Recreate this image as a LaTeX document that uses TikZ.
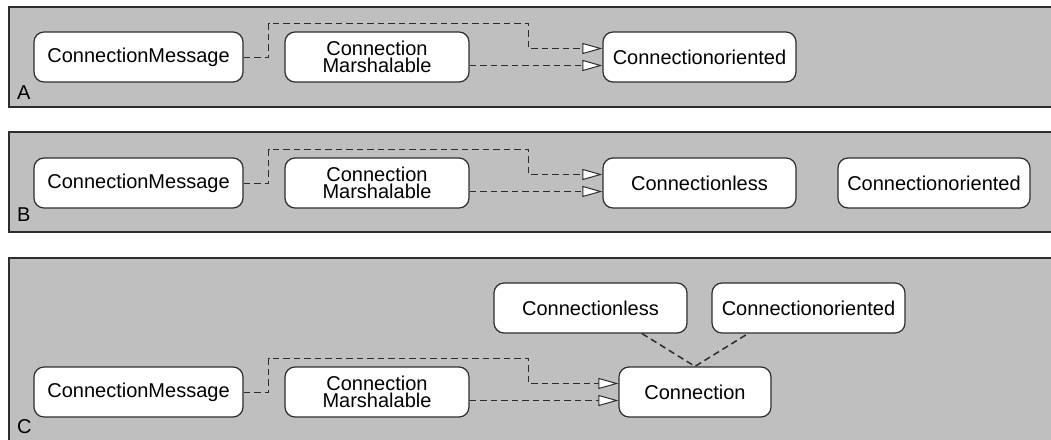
\documentclass[tikz,border=0pt]{standalone}
\usepackage{fontspec}
\setmainfont{Liberation Sans}
\usetikzlibrary{arrows.meta,calc}
\definecolor{panelgray}{RGB}{191,191,191}
\definecolor{edgecol}{RGB}{45,45,45}
\begin{document}
\begin{tikzpicture}[x=1pt,y=-1pt,
  panel/.style={fill=panelgray,draw=edgecol,line width=1.2pt},
  cls/.style={draw=edgecol,fill=white,rounded corners=10pt,line width=1.2pt,minimum height=50pt,inner sep=0pt,align=center,font=\fontsize{20}{17}\selectfont},
  dep/.style={draw=edgecol,dash pattern=on 6.5pt off 4pt,line width=1.5pt},
  realize/.style={dep,-{Triangle[length=20pt,width=11pt,fill=white,line width=1pt]}},
  lbl/.style={anchor=base west,inner sep=0pt,font=\fontsize{20}{20}\selectfont}]
\useasboundingbox (0,0) rectangle (1051,439);
\clip (0,0) rectangle (1051,439);
% panels
\path[panel] (9,7) rectangle (1070,107);
\path[panel] (9,132) rectangle (1070,232);
\path[panel] (9,258) rectangle (1070,460);
\node[lbl] (labA) at (17,99) {A};
\node[lbl] (labB) at (17,221) {B};
\node[lbl] (labC) at (17,433) {C};
% ---------- A
\node[cls,minimum width=209pt] (cmA) at (138.5,57) {ConnectionMessage};
\node[cls,minimum width=184pt] (maA) at (377,57) {Connection\\Marshalable};
\node[cls,minimum width=193pt] (coA) at (699.5,57) {Connectionoriented};
\coordinate (tA) at (268.5,23.5);
\coordinate (uA) at (528.5,23.5);
\draw[realize] ([yshift=-0.5pt]cmA.east) -| (tA) -- (uA) |- ([yshift=8.5pt]coA.west);
\draw[realize] ([yshift=-8.5pt]maA.east) -- ([yshift=-8.5pt]coA.west);
% ---------- B
\node[cls,minimum width=209pt] (cmB) at (138.5,183) {ConnectionMessage};
\node[cls,minimum width=184pt] (maB) at (377,183) {Connection\\Marshalable};
\node[cls,minimum width=193pt] (clB) at (699.5,183) {Connectionless};
\node[cls,minimum width=192pt] (coB) at (934,183) {Connectionoriented};
\coordinate (tB) at (268.5,149.5);
\coordinate (uB) at (528.5,149.5);
\draw[realize] ([yshift=-0.5pt]cmB.east) -| (tB) -- (uB) |- ([yshift=8.5pt]clB.west);
\draw[realize] ([yshift=-8.5pt]maB.east) -- ([yshift=-8.5pt]clB.west);
% ---------- C
\node[cls,minimum width=209pt] (cmC) at (138.5,392) {ConnectionMessage};
\node[cls,minimum width=184pt] (maC) at (377,392) {Connection\\Marshalable};
\node[cls,minimum width=152pt] (cnC) at (695,392) {Connection};
\node[cls,minimum width=193pt] (clC) at (590.5,308) {Connectionless};
\node[cls,minimum width=193pt] (coC) at (808.5,308) {Connectionoriented};
\coordinate (tC) at (268.5,358.5);
\coordinate (uC) at (528.5,358.5);
\draw[realize] ([yshift=-0.5pt]cmC.east) -| (tC) -- (uC) |- ([yshift=8.5pt]cnC.west);
\draw[realize] ([yshift=-8.5pt]maC.east) -- ([yshift=-8.5pt]cnC.west);
\draw[dep] ([xshift=51.5pt]clC.south) -- (cnC.north) -- ([xshift=-60.5pt]coC.south);
\end{tikzpicture}
\end{document}
